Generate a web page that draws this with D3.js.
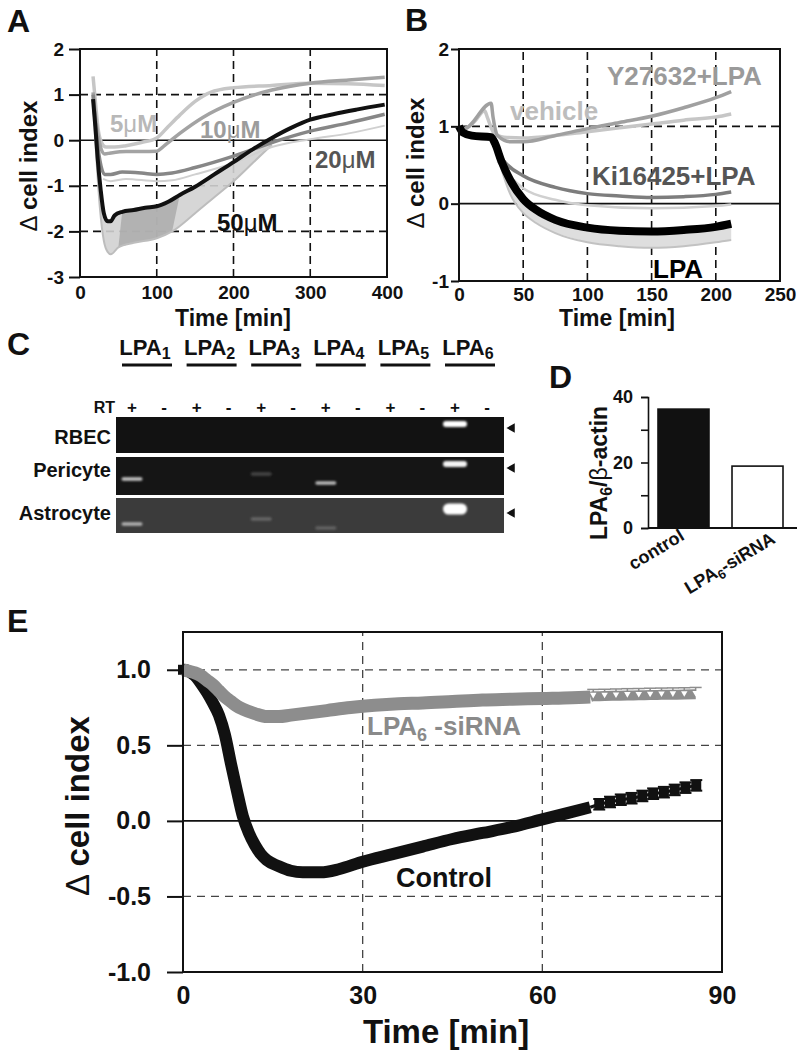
<!DOCTYPE html>
<html lang="en">
<head>
<meta charset="UTF-8">
<title>LPA and cell index</title>
<script src="https://cdnjs.cloudflare.com/ajax/libs/d3/7.8.5/d3.min.js"></script>
<style>
  body { margin: 0; background: #fff; }
  svg { display: block; font-family: "Liberation Sans", Arial, sans-serif; font-weight: bold; }
</style>
</head>
<body>
<script>
// ---------- data ----------
// A: dose response, [time min, delta cell index]
var aTicksX = [0, 100, 200, 300, 400];
var aTicksY = [-3, -2, -1, 0, 1, 2];
var a5uM = [[17,1.4],[20,0.85],[24,0.2],[28,-0.05],[34,-0.15],[45,-0.15],[60,-0.12],[80,-0.05],[100,0.05],[115,0.3],[130,0.55],[150,0.85],[170,1.05],[200,1.15],[250,1.2],[300,1.25],[350,1.24],[397,1.2]];
var a10uM = [[17,1.05],[21,0.4],[26,-0.1],[32,-0.3],[40,-0.28],[60,-0.25],[80,-0.25],[100,-0.24],[110,-0.12],[130,0.15],[160,0.5],[200,0.83],[250,1.1],[300,1.25],[350,1.32],[397,1.38]];
var a20uM = [[17,1.0],[21,0.2],[26,-0.45],[32,-0.75],[40,-0.75],[55,-0.7],[80,-0.72],[100,-0.75],[120,-0.72],[150,-0.6],[200,-0.35],[250,-0.05],[300,0.2],[350,0.38],[397,0.57]];
var a20uMLow = [[30,-0.85],[40,-0.9],[60,-0.85],[100,-0.9],[120,-0.88],[150,-0.75],[200,-0.5],[250,-0.15],[300,0.02],[350,0.15],[397,0.32]];
var a50uM = [[17,0.9],[20,0.3],[23,-0.4],[27,-1.1],[31,-1.6],[36,-1.78],[40,-1.78],[45,-1.65],[55,-1.57],[70,-1.53],[85,-1.48],[100,-1.45],[115,-1.35],[130,-1.2],[150,-1.02],[175,-0.75],[200,-0.48],[225,-0.2],[250,0.05],[275,0.27],[300,0.45],[330,0.57],[360,0.67],[397,0.78]];
var a50uMLow = [[17,0.85],[21,-0.3],[26,-1.5],[31,-2.2],[36,-2.45],[40,-2.5],[50,-2.35],[70,-2.25],[100,-2.15],[120,-2.0],[150,-1.6],[175,-1.25],[200,-0.9],[225,-0.5],[250,-0.1]];

// B: inhibitors
var bTicksX = [0, 50, 100, 150, 200, 250];
var bTicksY = [-1, 0, 1, 2];
var bVehicle = [[0,1],[4,0.97],[12,1.06],[20,1.2],[22,1.12],[27,0.92],[35,0.86],[50,0.85],[75,0.88],[100,0.93],[125,0.98],[150,1.03],[175,1.08],[200,1.12],[212,1.16]];
var bY27632 = [[0,1],[4,0.97],[25,1.3],[26.5,1.12],[30,0.88],[40,0.8],[50,0.8],[75,0.88],[100,0.97],[125,1.05],[150,1.13],[175,1.24],[200,1.37],[212,1.45]];
var bKi = [[0,1],[3,0.92],[10,0.88],[25,0.85],[29,0.7],[35,0.55],[50,0.36],[75,0.21],[100,0.13],[125,0.1],[150,0.08],[175,0.09],[200,0.12],[212,0.15]];
var bKiLow = [[30,0.55],[40,0.35],[50,0.2],[75,0.05],[100,-0.02],[150,-0.06],[200,-0.03],[212,-0.01]];
var bLPA = [[0,1],[3,0.92],[10,0.88],[25,0.86],[28,0.78],[33,0.55],[40,0.3],[50,0.06],[60,-0.08],[75,-0.21],[100,-0.31],[125,-0.35],[150,-0.36],[175,-0.34],[200,-0.3],[212,-0.26]];
var bLPALow = [[28,0.75],[33,0.45],[40,0.12],[50,-0.12],[60,-0.25],[75,-0.38],[100,-0.5],[125,-0.55],[150,-0.57],[175,-0.55],[200,-0.5],[212,-0.47]];

// C: RT-PCR, band intensity per lane (+/- RT for LPA1..LPA6)
var genes = ["1", "2", "3", "4", "5", "6"];
var rtMarks = ["+", "-"];
var cells = ["RBEC", "Pericyte", "Astrocyte"];
var rbecBands = [0, 0, 0, 0, 0, 0, 0, 0, 0, 0, 1.0, 0];
var pericyteBands = [0.75, 0, 0, 0, 0.2, 0, 0.7, 0, 0, 0, 0.95, 0];
var astrocyteBands = [0.6, 0, 0, 0, 0.22, 0, 0.2, 0, 0, 0, 1.0, 0];

// D: LPA6 / beta-actin
var dCats = ["control", "LPA6-siRNA"];
var dValues = [36.3, 18.9];
var dTicks = [0, 10, 20, 30, 40];

// E: siRNA knockdown
var eTicksX = [0, 30, 60, 90];
var eTicksY = [-1, -0.5, 0, 0.5, 1];
var eControl = [[0,1],[1,0.99],[2,0.96],[3,0.91],[4,0.85],[5,0.78],[6,0.7],[7,0.57],[8,0.38],[9,0.2],[10,0.03],[11,-0.08],[12,-0.16],[13,-0.22],[14,-0.26],[16,-0.3],[18,-0.33],[20,-0.34],[23,-0.34],[26,-0.32],[30,-0.27],[35,-0.22],[40,-0.17],[45,-0.12],[50,-0.08],[55,-0.04],[60,0.01],[64,0.05],[68,0.09]];
var eSiRNA = [[0,1],[1,0.99],[2,0.98],[3,0.96],[4,0.93],[5,0.9],[6,0.86],[7,0.82],[8,0.79],[9,0.76],[10,0.74],[12,0.71],[14,0.69],[16,0.69],[18,0.7],[20,0.71],[24,0.73],[28,0.75],[32,0.765],[36,0.775],[40,0.78],[45,0.79],[50,0.8],[55,0.805],[60,0.81],[65,0.815],[68,0.82]];
var eControlMarks = [[69.5,0.11],[71.3,0.125],[73.1,0.14],[74.9,0.15],[76.7,0.165],[78.5,0.18],[80.3,0.19],[82.1,0.205],[83.9,0.22],[85.7,0.235]];
var eSiRNAMarks = [[68.5,0.825],[70.4,0.826],[72.3,0.828],[74.2,0.83],[76.1,0.831],[78,0.833],[79.9,0.834],[81.8,0.835],[83.7,0.836],[85.6,0.838]];

// ---------- drawing ----------
var W = 797, H = 1050;
var svg = d3.select("body").append("svg").attr("width", W).attr("height", H);
svg.append("rect").attr("width", W).attr("height", H).attr("fill", "#fff");

var defs = svg.append("defs");
defs.append("filter").attr("id", "glow").attr("x", "-20%").attr("y", "-50%").attr("width", "140%").attr("height", "200%")
  .append("feGaussianBlur").attr("stdDeviation", 0.8);

function lineGen(x, y) {
  return d3.line().x(d => x(d[0])).y(d => y(d[1])).curve(d3.curveMonotoneX);
}

function label(x, y, txt, size, opts) {
  opts = opts || {};
  var t = svg.append("text").attr("x", x).attr("y", y).attr("font-size", size)
    .attr("fill", opts.fill || "#111").attr("text-anchor", opts.anchor || "start");
  if (opts.rotate) t.attr("transform", "rotate(" + opts.rotate + "," + x + "," + y + ")");
  return t;
}

function axes(x, y, o) {
  var gy = svg.append("g").attr("transform", "translate(" + x.range()[0] + ",0)")
    .call(d3.axisLeft(y).tickValues(o.yTicks).tickSize(o.ySize).tickPadding(o.yPad).tickFormat(o.fmt || (d => String(d))));
  var gx = svg.append("g").attr("transform", "translate(0," + y.range()[0] + ")")
    .call(d3.axisBottom(x).tickValues(o.xTicks).tickSize(0).tickPadding(o.xPad).tickFormat(d => String(d)));
  [gy, gx].forEach(function (g) {
    g.select(".domain").remove();
    g.attr("font-family", null).attr("font-size", o.font).attr("font-weight", "bold");
    g.selectAll("line").attr("stroke", "#111").attr("stroke-width", 2);
    g.selectAll("text").attr("fill", "#111");
  });
}

function grid(x, y, hd, vd, dash, col, sw) {
  var g = svg.append("g").attr("stroke", col).attr("stroke-width", sw).attr("stroke-dasharray", dash);
  g.selectAll("line.h").data(hd).join("line").attr("class", "h")
    .attr("x1", x.range()[0]).attr("x2", x.range()[1]).attr("y1", d => y(d)).attr("y2", d => y(d));
  g.selectAll("line.v").data(vd).join("line").attr("class", "v")
    .attr("x1", d => x(d)).attr("x2", d => x(d)).attr("y1", y.range()[0]).attr("y2", y.range()[1]);
  svg.append("line").attr("x1", x.range()[0]).attr("x2", x.range()[1]).attr("y1", y(0)).attr("y2", y(0))
    .attr("stroke", "#111").attr("stroke-width", 1.6);
}

function frame(x, y) {
  svg.append("rect").attr("x", x.range()[0]).attr("y", y.range()[1])
    .attr("width", x.range()[1] - x.range()[0]).attr("height", y.range()[0] - y.range()[1])
    .attr("fill", "none").attr("stroke", "#111").attr("stroke-width", 2);
}

function yTitle(x, y, size, pre, rest) {
  var t = label(x, y, "", size, { anchor: "middle", rotate: -90 });
  t.append("tspan").attr("font-weight", "normal").text(pre);
  t.append("tspan").text(rest);
}

// panel letters
[["A", 7, 32], ["B", 405, 31], ["C", 7, 355], ["D", 549, 388], ["E", 7, 632]].forEach(function (p) {
  label(p[1], p[2], p[0], 32).text(p[0]);
});

// ===== A =====
var xA = d3.scaleLinear().domain([0, 400]).range([80, 387]);
var yA = d3.scaleLinear().domain([-3, 2]).range([277, 49]);
grid(xA, yA, [1, -1, -2], [100, 200, 300], "8,5", "#111", 1.6);

var bandA = a50uM.filter(d => d[0] <= 250).concat(a50uMLow.slice().reverse());
svg.append("path").attr("d", d3.line().x(d => xA(d[0])).y(d => yA(d[1]))(bandA))
  .attr("fill", "#d2d2d2").attr("opacity", 0.9);
var bandDark = a50uM.filter(d => d[0] >= 55 && d[0] <= 130)
  .concat(a50uMLow.filter(d => d[0] >= 50 && d[0] <= 120).reverse());
svg.append("path").attr("d", d3.line().x(d => xA(d[0])).y(d => yA(d[1]))(bandDark))
  .attr("fill", "#a9a9a9").attr("opacity", 0.8);
svg.append("path").attr("d", lineGen(xA, yA)(a50uMLow)).attr("fill", "none").attr("stroke", "#bdbdbd").attr("stroke-width", 2);

[[a20uMLow, "#d0d0d0", 2], [a5uM, "#c6c6c6", 3.5], [a10uM, "#a3a3a3", 3.5], [a20uM, "#878787", 3.5], [a50uM, "#111", 4]]
  .forEach(function (s) {
    svg.append("path").attr("d", lineGen(xA, yA)(s[0])).attr("fill", "none")
      .attr("stroke", s[1]).attr("stroke-width", s[2]).attr("stroke-linejoin", "round");
  });
frame(xA, yA);
axes(xA, yA, { yTicks: aTicksY, xTicks: aTicksX, ySize: 11, yPad: 5, xPad: 9, font: 19 });
label(233, 326, "Time [min]", 23, { anchor: "middle" }).text("Time [min]");
yTitle(37, 166, 24, "\u0394 ", "cell index");

function micro(x, y, num, fill, size) {
  var t = label(x, y, "", size, { fill: fill });
  t.append("tspan").text(num);
  t.append("tspan").attr("font-weight", "normal").text("\u03bc");
  t.append("tspan").text("M");
}
micro(110, 132, "5", "#b8b8b8", 24);
micro(200, 138, "10", "#9c9c9c", 24);
micro(315, 168, "20", "#555", 24);
micro(217, 231, "50", "#111", 24);

// ===== B =====
var xB = d3.scaleLinear().domain([0, 250]).range([459, 780]);
var yB = d3.scaleLinear().domain([-1, 2]).range([281, 49]);
grid(xB, yB, [1], [50, 100, 150, 200], "8,5", "#111", 1.6);

var bandB = bLPA.filter(d => d[0] >= 28).concat(bLPALow.slice().reverse());
svg.append("path").attr("d", d3.line().x(d => xB(d[0])).y(d => yB(d[1]))(bandB)).attr("fill", "#dedede");
svg.append("path").attr("d", lineGen(xB, yB)(bLPALow)).attr("fill", "none").attr("stroke", "#c2c2c2").attr("stroke-width", 2);
[[bKiLow, "#d0d0d0", 2.5], [bVehicle, "#c6c6c6", 3.5], [bY27632, "#a0a0a0", 3.5], [bKi, "#7d7d7d", 3.5], [bLPA, "#000", 8]]
  .forEach(function (s) {
    svg.append("path").attr("d", lineGen(xB, yB)(s[0])).attr("fill", "none")
      .attr("stroke", s[1]).attr("stroke-width", s[2]).attr("stroke-linejoin", "round");
  });
frame(xB, yB);
axes(xB, yB, { yTicks: bTicksY, xTicks: bTicksX, ySize: 8, yPad: 2, xPad: 7, font: 19 });
label(617, 326, "Time [min]", 23, { anchor: "middle" }).text("Time [min]");
yTitle(424, 163, 24, "\u0394 ", "cell index");
label(607, 85, "", 26, { fill: "#9a9a9a" }).text("Y27632+LPA");
label(510, 120, "", 26, { fill: "#bdbdbd" }).text("vehicle");
label(592, 185, "", 26, { fill: "#555" }).text("Ki16425+LPA");
label(653, 278, "", 26, { fill: "#000" }).text("LPA");

// ===== C =====
var geneX = d3.scalePoint().domain(genes).range([132, 455]);
var laneX = function (i) { return geneX(genes[Math.floor(i / 2)]) + (i % 2) * 32; };
genes.forEach(function (g) {
  var cx = geneX(g);
  var t = label(cx + 13, 355, "", 22, { anchor: "middle" });
  t.append("tspan").text("LPA");
  t.append("tspan").attr("font-size", 16).attr("dy", 4).text(g);
  svg.append("line").attr("x1", cx - 10).attr("x2", cx + 40).attr("y1", 365).attr("y2", 365)
    .attr("stroke", "#111").attr("stroke-width", 3);
  rtMarks.forEach(function (m, j) {
    label(cx + j * 32, 413, "", 17, { anchor: "middle" }).text(m);
  });
});
label(115, 413, "", 16, { anchor: "end" }).text("RT");

var gelRows = [
  { name: cells[0], top: 417, h: 36, bg: "#121212", bands: rbecBands, shift: 0, base: 444 },
  { name: cells[1], top: 457, h: 38, bg: "#151515", bands: pericyteBands, shift: 0, base: 477 },
  { name: cells[2], top: 498, h: 35, bg: "#3b3b3b", bands: astrocyteBands, shift: 4, base: 520 }
];
var geneOffset = [22, 20, 17, 26, 20, 7];
gelRows.forEach(function (r) {
  svg.append("rect").attr("x", 116).attr("y", r.top).attr("width", 388).attr("height", r.h).attr("fill", r.bg);
  label(111, r.base, "", 20, { anchor: "end" }).text(r.name);
  r.bands.forEach(function (v, i) {
    if (v <= 0) return;
    var gi = Math.floor(i / 2);
    var big = gi === 5;
    var bh = big ? (r.shift ? 11 : 6) : 3.5;
    var bw = big ? 24 : 21;
    svg.append("rect").attr("x", laneX(i) - bw / 2).attr("y", r.top + geneOffset[gi] + r.shift - bh / 2)
      .attr("width", bw).attr("height", bh).attr("rx", bh / 2)
      .attr("fill", d3.interpolateRgb(r.bg, "#ffffff")(v)).attr("filter", "url(#glow)");
  });
  var ay = r.top + geneOffset[5] + r.shift + 4;
  svg.append("path").attr("d", d3.symbol().type(d3.symbolTriangle).size(40)())
    .attr("transform", "translate(512," + ay + ") rotate(-90)").attr("fill", "#111");
});

// ===== D =====
var yD = d3.scaleLinear().domain([0, 40]).range([528, 397]);
var xD = d3.scaleBand().domain(dCats).range([658, 783]).paddingInner(0.311).paddingOuter(0);
svg.selectAll("rect.bar").data(dCats).join("rect").attr("class", "bar")
  .attr("x", d => xD(d)).attr("width", xD.bandwidth())
  .attr("y", (d, i) => yD(dValues[i])).attr("height", (d, i) => yD(0) - yD(dValues[i]))
  .attr("fill", (d, i) => i === 0 ? "#111" : "#fff").attr("stroke", "#111").attr("stroke-width", 1.6);
var gD = svg.append("g").attr("transform", "translate(648,0)")
  .call(d3.axisLeft(yD).tickValues(dTicks).tickSize(7).tickPadding(8).tickFormat(d => d % 20 === 0 ? String(d) : ""));
gD.attr("font-family", null).attr("font-size", 18).attr("font-weight", "bold");
gD.select(".domain").attr("stroke", "#111").attr("stroke-width", 1.6);
gD.selectAll("line").attr("stroke", "#111").attr("stroke-width", 1.6);
gD.selectAll("text").attr("fill", "#111");
svg.append("line").attr("x1", 648).attr("x2", 797).attr("y1", 528).attr("y2", 528).attr("stroke", "#111").attr("stroke-width", 1.8);
var t1 = label(xD("control") + xD.bandwidth() / 2 + 2, 539, "", 18, { anchor: "end", rotate: -31 });
t1.text("control");
var t2 = label(xD("LPA6-siRNA") + xD.bandwidth() / 2 + 19, 542, "", 18, { anchor: "end", rotate: -31 });
t2.append("tspan").text("LPA");
t2.append("tspan").attr("font-size", 13).attr("dy", 4).text("6");
t2.append("tspan").attr("dy", -4).text("-siRNA");
var tD = label(607, 473, "", 23, { anchor: "middle", rotate: -90 });
tD.append("tspan").text("LPA");
tD.append("tspan").attr("font-size", 16).attr("dy", 5).text("6");
tD.append("tspan").attr("dy", -5).text("/");
tD.append("tspan").attr("font-weight", "normal").text("\u03b2");
tD.append("tspan").text("-actin");

// ===== E =====
var xE = d3.scaleLinear().domain([0, 90]).range([183, 722]);
var yE = d3.scaleLinear().domain([-1, 1.25]).range([972, 632]);
grid(xE, yE, [1, 0.5, -0.5], [30, 60], "8,6", "#444", 1.3);

svg.append("path").attr("d", lineGen(xE, yE)(eControl)).attr("fill", "none")
  .attr("stroke", "#111").attr("stroke-width", 12).attr("stroke-linecap", "butt").attr("stroke-linejoin", "round");
svg.append("path").attr("d", lineGen(xE, yE)([eControl[eControl.length - 1]].concat(eControlMarks))).attr("fill", "none")
  .attr("stroke", "#111").attr("stroke-width", 3);
var cm = svg.append("g");
eControlMarks.forEach(function (d) {
  var x = xE(d[0]), y = yE(d[1]);
  cm.append("line").attr("x1", x).attr("x2", x).attr("y1", yE(d[1] + 0.035)).attr("y2", yE(d[1] - 0.035)).attr("stroke", "#111").attr("stroke-width", 2);
  [0.035, -0.035].forEach(function (e) {
    cm.append("line").attr("x1", x - 6).attr("x2", x + 6).attr("y1", yE(d[1] + e)).attr("y2", yE(d[1] + e)).attr("stroke", "#111").attr("stroke-width", 2);
  });
  cm.append("rect").attr("x", x - 5).attr("y", y - 5).attr("width", 10).attr("height", 10).attr("fill", "#111");
});
svg.append("rect").attr("x", xE(0) - 5).attr("y", yE(1) - 5).attr("width", 10).attr("height", 10).attr("fill", "#111");

svg.append("path").attr("d", lineGen(xE, yE)(eSiRNA)).attr("fill", "none")
  .attr("stroke", "#8d8d8d").attr("stroke-width", 13).attr("stroke-linecap", "butt").attr("stroke-linejoin", "round");
svg.append("path").attr("d", lineGen(xE, yE)([eSiRNA[eSiRNA.length - 1]].concat(eSiRNAMarks))).attr("fill", "none")
  .attr("stroke", "#8d8d8d").attr("stroke-width", 10);
var sm = svg.append("g");
eSiRNAMarks.forEach(function (d) {
  var x = xE(d[0]);
  sm.append("line").attr("x1", x - 6).attr("x2", x + 6).attr("y1", yE(d[1] + 0.045)).attr("y2", yE(d[1] + 0.045)).attr("stroke", "#8d8d8d").attr("stroke-width", 1.5);
  sm.append("line").attr("x1", x).attr("x2", x).attr("y1", yE(d[1] + 0.045)).attr("y2", yE(d[1])).attr("stroke", "#8d8d8d").attr("stroke-width", 1.5);
  sm.append("path").attr("d", d3.symbol().type(d3.symbolTriangle).size(18)())
    .attr("transform", "translate(" + x + "," + (yE(d[1]) - 1.5) + ") rotate(180)")
    .attr("fill", "#fff");
});

frame(xE, yE);
axes(xE, yE, { yTicks: eTicksY, xTicks: eTicksX, ySize: 16, yPad: 16, xPad: 14, font: 25, fmt: d => d.toFixed(1) });
label(446, 1043, "Time [min]", 33, { anchor: "middle" }).text("Time [min]");
yTitle(89, 806, 33, "\u0394 ", "cell index");

var tE = label(367, 735, "", 26, { fill: "#8a8a8a" });
tE.append("tspan").text("LPA");
tE.append("tspan").attr("font-size", 18).attr("dy", 6).text("6");
tE.append("tspan").attr("dy", -6).text(" -siRNA");
label(492, 887, "", 27, { anchor: "end" }).text("Control");
</script>
</body>
</html>
